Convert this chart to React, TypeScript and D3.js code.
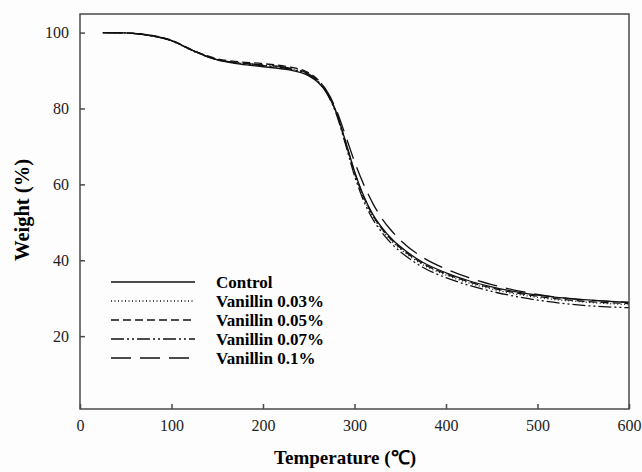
import React, { useEffect, useRef } from 'react';
import * as d3 from 'd3';

// temperature points (°C)
const temps = [25, 50, 75, 100, 125, 150, 175, 200, 225, 250, 260, 270, 280, 290, 300, 310, 320, 330, 340, 350, 375, 400, 425, 450, 500, 550, 600];

const control = [100, 99.9, 99.3, 97.9, 95.1, 92.8, 91.7, 91.0, 90.3, 88.6, 86.9, 84.0, 79.0, 71.5, 63.5, 57.0, 52.1, 48.6, 45.8, 43.6, 39.4, 36.7, 34.6, 33.0, 30.8, 29.6, 28.9];
const vanillin003 = [100, 99.9, 99.3, 97.8, 95.0, 92.9, 92.0, 91.4, 90.7, 89.0, 87.2, 84.1, 78.9, 71.1, 62.9, 56.4, 51.5, 48.0, 45.2, 43.0, 38.8, 36.1, 34.0, 32.4, 30.2, 29.0, 28.3];
const vanillin005 = [100, 99.9, 99.4, 98.0, 95.2, 93.1, 92.3, 91.8, 91.1, 89.4, 87.6, 84.4, 79.1, 71.3, 63.2, 56.7, 51.8, 48.3, 45.5, 43.3, 39.1, 36.4, 34.3, 32.7, 30.5, 29.2, 28.6];
const vanillin007 = [100, 99.9, 99.3, 97.9, 95.0, 92.8, 91.9, 91.3, 90.6, 88.9, 87.1, 83.9, 78.6, 70.7, 62.3, 55.7, 50.8, 47.3, 44.5, 42.3, 38.1, 35.4, 33.4, 31.8, 29.5, 28.1, 27.5];
const vanillin01 = [100, 99.9, 99.3, 97.9, 95.1, 92.9, 92.0, 91.5, 90.8, 89.1, 87.4, 84.5, 79.7, 73.0, 66.0, 60.0, 55.0, 51.0, 47.9, 45.3, 40.7, 37.7, 35.4, 33.6, 31.0, 29.6, 28.9];

const seriesNames = ['Control', 'Vanillin 0.03%', 'Vanillin 0.05%', 'Vanillin 0.07%', 'Vanillin 0.1%'];
const seriesValues = [control, vanillin003, vanillin005, vanillin007, vanillin01];
const dashes = ['none', '1,2.5', '8,4', '13,3,2,3,2,3', '20,9'];

const xTicks = [0, 100, 200, 300, 400, 500, 600];
const yTicks = [20, 40, 60, 80, 100];

export default function App() {
  const ref = useRef<SVGSVGElement>(null);

  useEffect(() => {
    const svg = d3.select(ref.current);
    svg.selectAll('*').remove();

    const left = 80, right = 629, top = 14, bottom = 409;
    const x = d3.scaleLinear().domain([0, 600]).range([left, right]);
    const y = d3.scaleLinear().domain([0.8, 104.9]).range([bottom, top]);
    const axisColor = '#4a4a4a';
    const font = "'Liberation Serif', Tinos, 'Times New Roman', Times, serif";

    svg.append('rect').attr('width', 642).attr('height', 472).attr('fill', '#fdfdfd');

    // curves
    const line = d3.line<number>()
      .x((d, i) => x(temps[i]))
      .y(d => y(d))
      .curve(d3.curveMonotoneX);

    seriesValues.forEach((vals, k) => {
      svg.append('path')
        .attr('d', line(vals))
        .attr('fill', 'none')
        .attr('stroke', '#111')
        .attr('stroke-width', 1.3)
        .attr('stroke-dasharray', dashes[k]);
    });

    // frame
    svg.append('rect')
      .attr('x', left).attr('y', top)
      .attr('width', right - left).attr('height', bottom - top)
      .attr('fill', 'none').attr('stroke', axisColor).attr('stroke-width', 1.5);

    // x axis (ticks inward)
    const xAxis = svg.append('g')
      .attr('transform', `translate(0,${bottom})`)
      .call(d3.axisBottom(x).tickValues(xTicks).tickSizeInner(-5).tickSizeOuter(0).tickPadding(11));
    xAxis.select('.domain').remove();
    xAxis.selectAll('line').attr('stroke', axisColor).attr('stroke-width', 1.5);
    xAxis.selectAll('text').attr('font-family', font).attr('font-size', 16).attr('fill', '#222');

    // y axis (ticks inward)
    const yAxis = svg.append('g')
      .attr('transform', `translate(${left},0)`)
      .call(d3.axisLeft(y).tickValues(yTicks).tickSizeInner(-5).tickSizeOuter(0).tickPadding(11));
    yAxis.select('.domain').remove();
    yAxis.selectAll('line').attr('stroke', axisColor).attr('stroke-width', 1.5);
    yAxis.selectAll('text').attr('font-family', font).attr('font-size', 16).attr('fill', '#222');

    // titles
    svg.append('text')
      .attr('x', 345).attr('y', 464)
      .attr('text-anchor', 'middle')
      .attr('font-family', font).attr('font-weight', 'bold').attr('font-size', 19)
      .text('Temperature (℃)');

    svg.append('text')
      .attr('transform', 'translate(29,210) rotate(-90)')
      .attr('text-anchor', 'middle')
      .attr('font-family', font).attr('font-weight', 'bold').attr('font-size', 20.5)
      .text('Weight (%)');

    // legend
    const legend = svg.append('g');
    seriesNames.forEach((name, k) => {
      const ly = 282 + k * 19;
      legend.append('line')
        .attr('x1', 111).attr('x2', 195)
        .attr('y1', ly).attr('y2', ly)
        .attr('stroke', '#111').attr('stroke-width', 1.3)
        .attr('stroke-dasharray', dashes[k]);
      legend.append('text')
        .attr('x', 216).attr('y', ly + 5.5)
        .attr('font-family', font).attr('font-weight', 'bold').attr('font-size', 17)
        .text(name);
    });
  }, []);

  return (
    <svg ref={ref} width={642} height={472}
      style={{ position: 'absolute', left: 0, top: 0, display: 'block' }} />
  );
}
